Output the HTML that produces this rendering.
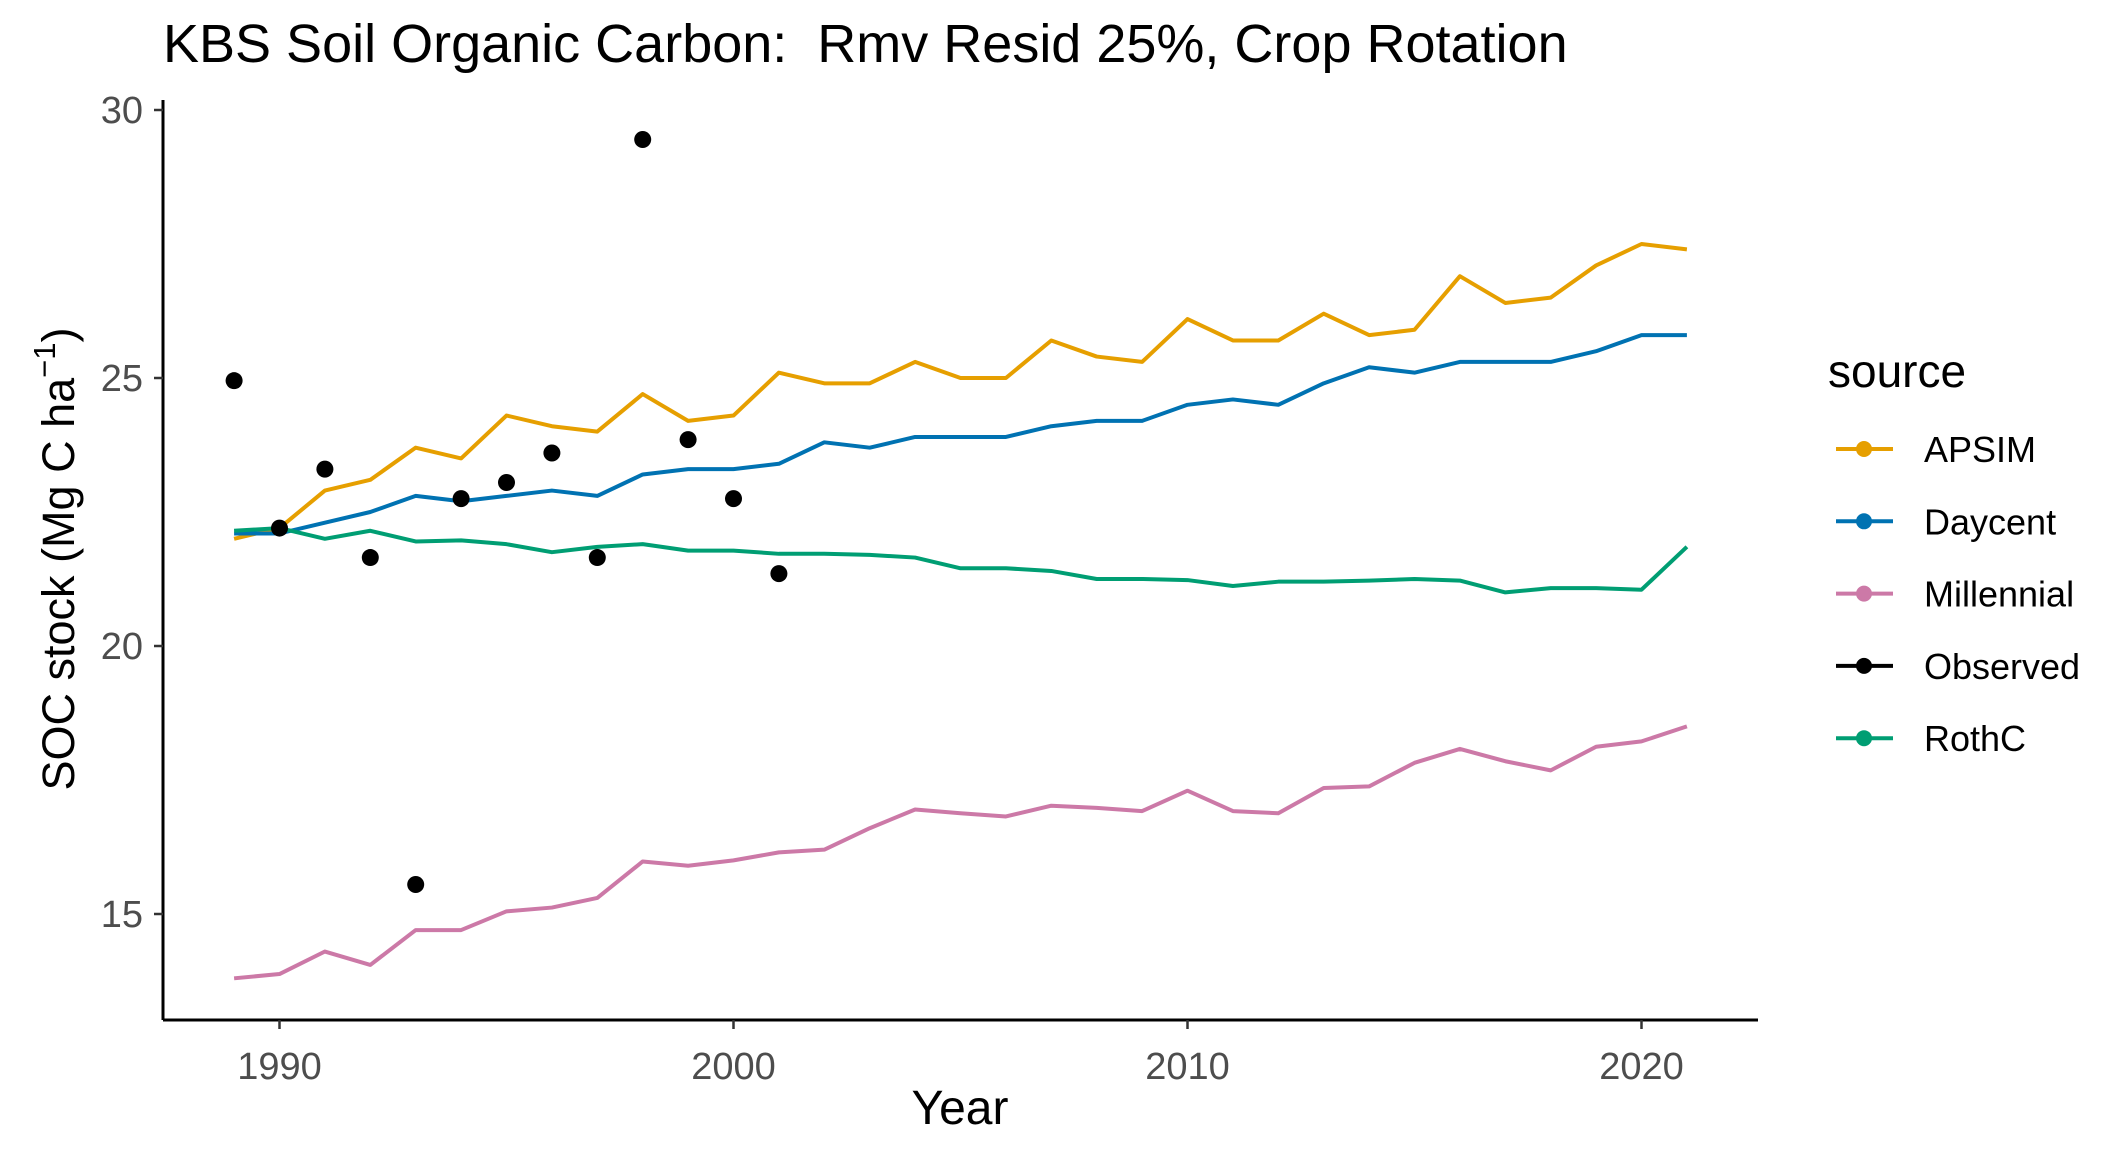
<!DOCTYPE html>
<html><head><meta charset="utf-8"><style>
html,body{margin:0;padding:0;background:#fff;}
svg{display:block;font-family:"Liberation Sans",Arial,sans-serif;}
</style></head><body>
<svg id="chart" width="2125" height="1153" viewBox="0 0 2125 1153">
<text x="163" y="62" font-size="54" fill="#000" style="white-space:pre">KBS Soil Organic Carbon:  Rmv Resid 25%, Crop Rotation</text>
<g id="axes"></g>
<g id="series"></g>
<g id="points"></g>
<text transform="translate(74,559) rotate(-90)" text-anchor="middle" font-size="45" fill="#000">SOC stock (Mg C ha<tspan font-size="31" dy="-19">−1</tspan><tspan dy="19">)</tspan></text>
<text x="960" y="1124" text-anchor="middle" font-size="48" fill="#000">Year</text>
<g id="legend"></g>
</svg>
<script>
const years = [1989,1990,1991,1992,1993,1994,1995,1996,1997,1998,1999,2000,2001,2002,2003,2004,2005,2006,2007,2008,2009,2010,2011,2012,2013,2014,2015,2016,2017,2018,2019,2020,2021];
const apsim = [22.0,22.2,22.9,23.1,23.7,23.5,24.3,24.1,24.0,24.7,24.2,24.3,25.1,24.9,24.9,25.3,25.0,25.0,25.7,25.4,25.3,26.1,25.7,25.7,26.2,25.8,25.9,26.9,26.4,26.5,27.1,27.5,27.4];
const daycent = [22.1,22.1,22.3,22.5,22.8,22.7,22.8,22.9,22.8,23.2,23.3,23.3,23.4,23.8,23.7,23.9,23.9,23.9,24.1,24.2,24.2,24.5,24.6,24.5,24.9,25.2,25.1,25.3,25.3,25.3,25.5,25.8,25.8];
const rothc = [22.15,22.2,22.0,22.15,21.95,21.97,21.9,21.75,21.85,21.9,21.78,21.78,21.72,21.72,21.7,21.65,21.45,21.45,21.4,21.25,21.25,21.23,21.12,21.2,21.2,21.22,21.25,21.22,21.0,21.08,21.08,21.05,21.85];
const millennial = [13.8,13.88,14.3,14.05,14.7,14.7,15.05,15.12,15.3,15.98,15.9,16.0,16.15,16.2,16.6,16.95,16.88,16.82,17.02,16.98,16.92,17.3,16.92,16.88,17.35,17.38,17.82,18.08,17.85,17.68,18.12,18.22,18.5];
const obsYears = [1989,1990,1991,1992,1993,1994,1995,1996,1997,1998,1999,2000,2001];
const obsValues = [24.95,22.2,23.3,21.65,15.55,22.75,23.05,23.6,21.65,29.45,23.85,22.75,21.35];
const xTicks = [1990,2000,2010,2020];
const yTicks = [15,20,25,30];
const legendLabels = ["APSIM","Daycent","Millennial","Observed","RothC"];
const legendColors = ["#E69F00","#0072B2","#CC79A7","#000000","#009E73"];

const NS="http://www.w3.org/2000/svg";
const X0=163, XR=1758, YB=1020;
function sx(v){return 279.5+(v-1990)*45.4;}
function sy(v){return 646-(v-20)*53.6;}
function mk(tag,attrs,parent){const e=document.createElementNS(NS,tag);for(const k in attrs)e.setAttribute(k,attrs[k]);parent.appendChild(e);return e;}
const axes=document.getElementById('axes');
let l=mk('line',{x1:X0,y1:YB,x2:XR,y2:YB,stroke:'#000','stroke-width':3},axes);


l=mk('line',{x1:X0,y1:100,x2:X0,y2:YB,stroke:'#000','stroke-width':3},axes);


xTicks.forEach(t=>{
  const tk=mk('line',{x1:sx(t),y1:YB,x2:sx(t),y2:YB+9,stroke:'#333','stroke-width':2.5},axes);
  
  
  const tx=mk('text',{x:sx(t),y:1079,'text-anchor':'middle','font-size':38,fill:'#4d4d4d'},axes);
  tx.textContent=t;
  
  
});
yTicks.forEach(t=>{
  const tk=mk('line',{x1:X0-9,y1:sy(t),x2:X0,y2:sy(t),stroke:'#333','stroke-width':2.5},axes);
  
  
  const tx=mk('text',{x:143,y:sy(t)+13,'text-anchor':'end','font-size':38,fill:'#4d4d4d'},axes);
  tx.textContent=t;
  
  
});
const ser=document.getElementById('series');
[[apsim,'#E69F00','apsim-line'],[daycent,'#0072B2','daycent-line'],[millennial,'#CC79A7','millennial-line'],[rothc,'#009E73','rothc-line']].forEach(([d,c,n])=>{
  const p=mk('polyline',{points:d.map((v,i)=>sx(years[i])+','+sy(v)).join(' '),fill:'none',stroke:c,'stroke-width':4,'stroke-linejoin':'round'},ser);
  
  
});
const pts=document.getElementById('points');
obsValues.forEach((v,i)=>{
  const c=mk('circle',{cx:sx(obsYears[i]),cy:sy(v),r:8.5,fill:'#000'},pts);
  
  
});
const lg=document.getElementById('legend');
const lt=mk('text',{x:1828,y:387,'font-size':46,fill:'#000'},lg);
lt.textContent='source';


legendLabels.forEach((lab,i)=>{
  const y=449+i*72.3;
  const g=mk('g',{},lg);
  
  
  mk('line',{x1:1836,y1:y,x2:1893,y2:y,stroke:legendColors[i],'stroke-width':4},g);
  mk('circle',{cx:1864,cy:y,r:8,fill:legendColors[i]},g);
  const t=mk('text',{x:1924,y:y+13,'font-size':36,fill:'#000'},g);
  t.textContent=lab;
});
</script>
</body></html>
